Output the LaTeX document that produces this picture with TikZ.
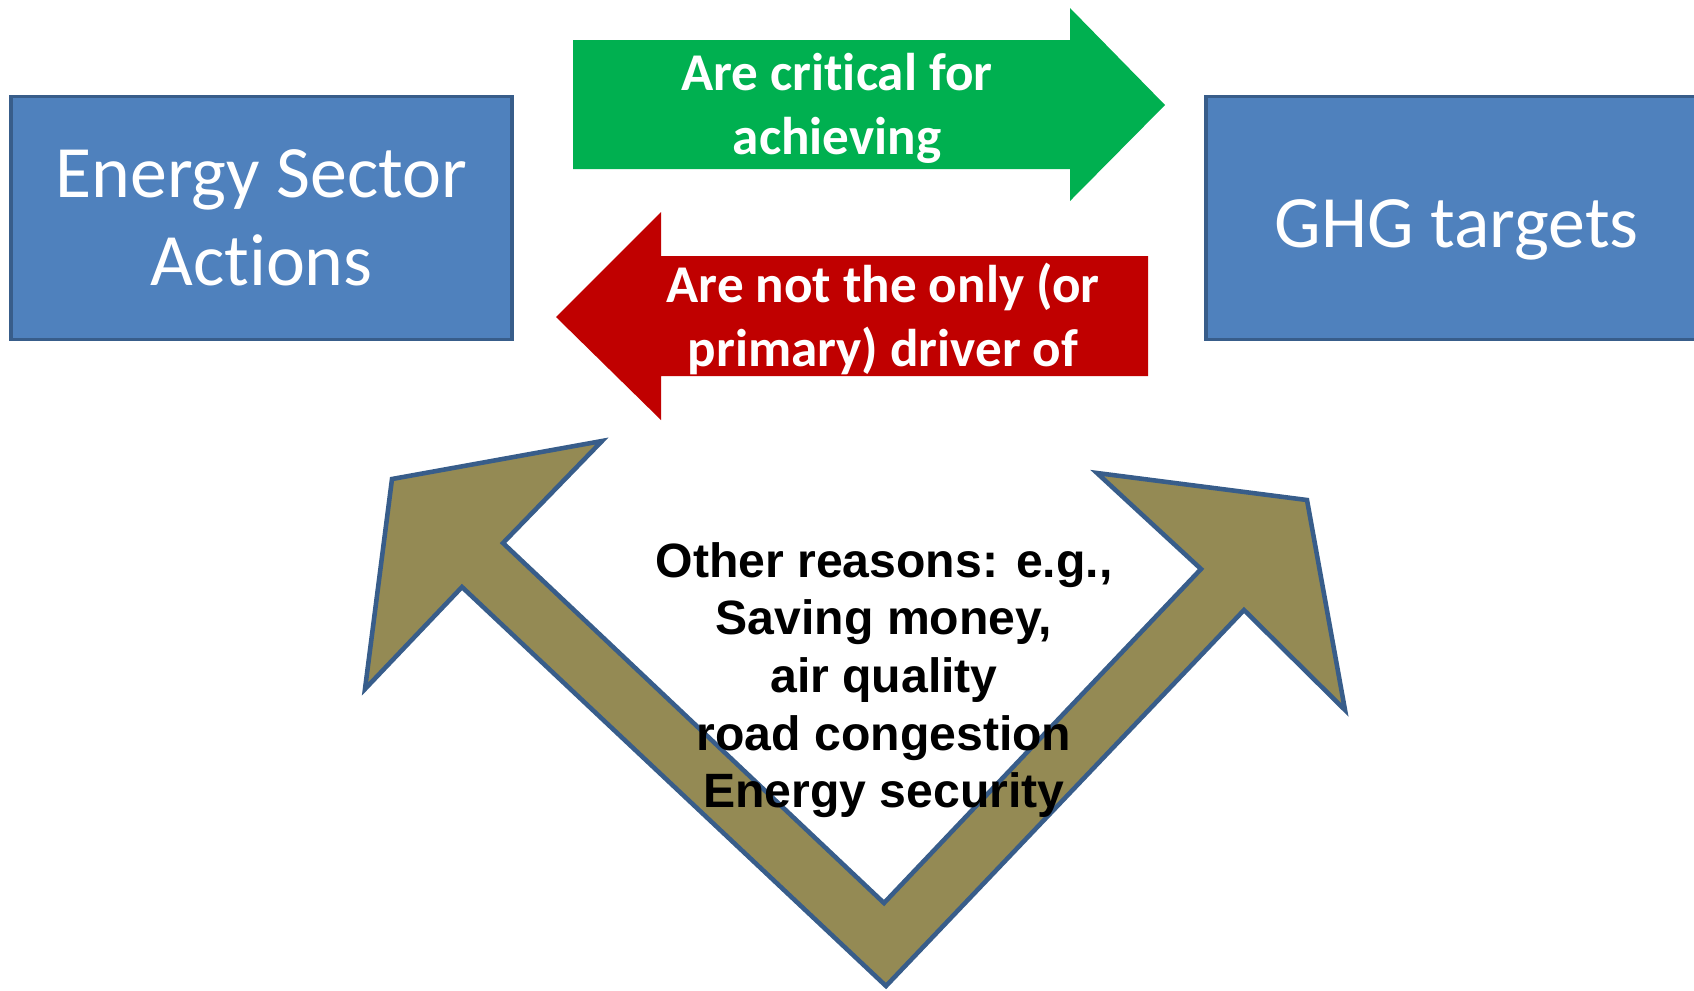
\documentclass[tikz,border=0pt]{standalone}
\usepackage{fontspec}
\usetikzlibrary{positioning}
\newfontfamily\calibri[Ligatures={NoCommon}]{Carlito}
\newfontfamily\arial{Liberation Sans}
\definecolor{boxblue}{RGB}{79,129,189}
\definecolor{boxedge}{RGB}{56,93,138}
\definecolor{okgreen}{RGB}{0,176,80}
\definecolor{notred}{RGB}{192,0,0}
\definecolor{olive}{RGB}{148,138,84}

\begin{document}
\begin{tikzpicture}[x=0.01cm,y=-0.01cm]
	  \tikzstyle{goal}=[rectangle,fill=boxblue,draw=boxedge,line width=1pt,minimum width=5.01cm,minimum height=2.43cm,text=white,align=center,font=\calibri\fontsize{21}{25}\selectfont]
	  \tikzstyle{arrowtext}=[text=white,align=center,font=\calibri\bfseries\fontsize{15.1}{18.2}\selectfont]
	  \tikzstyle{reasons}=[text=black,align=center,font=\arial\bfseries\fontsize{13.7}{16.4}\selectfont]

	  \useasboundingbox (0,0) rectangle (1694,990);

	  \node[goal] (esa) at (261.5,218) {Energy Sector\\Actions};
	  \node[goal] (ghg) [right=6.90cm of esa,text height=0.72cm] {GHG targets};

	  % green arrow: actions -> targets
	  \fill[okgreen] (573,40) -- (1070,40) -- (1070,8) -- (1165,105) -- (1070,201) -- (1070,169) -- (573,169) -- cycle;
	  \node[arrowtext] (crit) at (837,108) {Are critical for\\achieving};

	  % red arrow: targets -> actions
	  \fill[notred] (1148,256) -- (661,256) -- (661,212) -- (556,317) -- (661,420) -- (661,376) -- (1148,376) -- cycle;
	  \node[arrowtext] (notonly) at (883,319) {Are not the only (or\\primary) driver of};

	  % bent double arrow underneath
	  \filldraw[fill=olive,draw=boxedge,line width=1.3pt]
	    (392,479) -- (602,441) -- (503,543) -- (884,903) -- (1201,569) -- (1097,473)
	    -- (1307,500) -- (1345,710) -- (1244,610) -- (886,986) -- (462,587) -- (365,689) -- cycle;
	  \node[reasons] (other) at (884,680) {Other reasons: e.g.,\\Saving money,\\air quality\\road congestion\\Energy security};
\end{tikzpicture}
\end{document}
